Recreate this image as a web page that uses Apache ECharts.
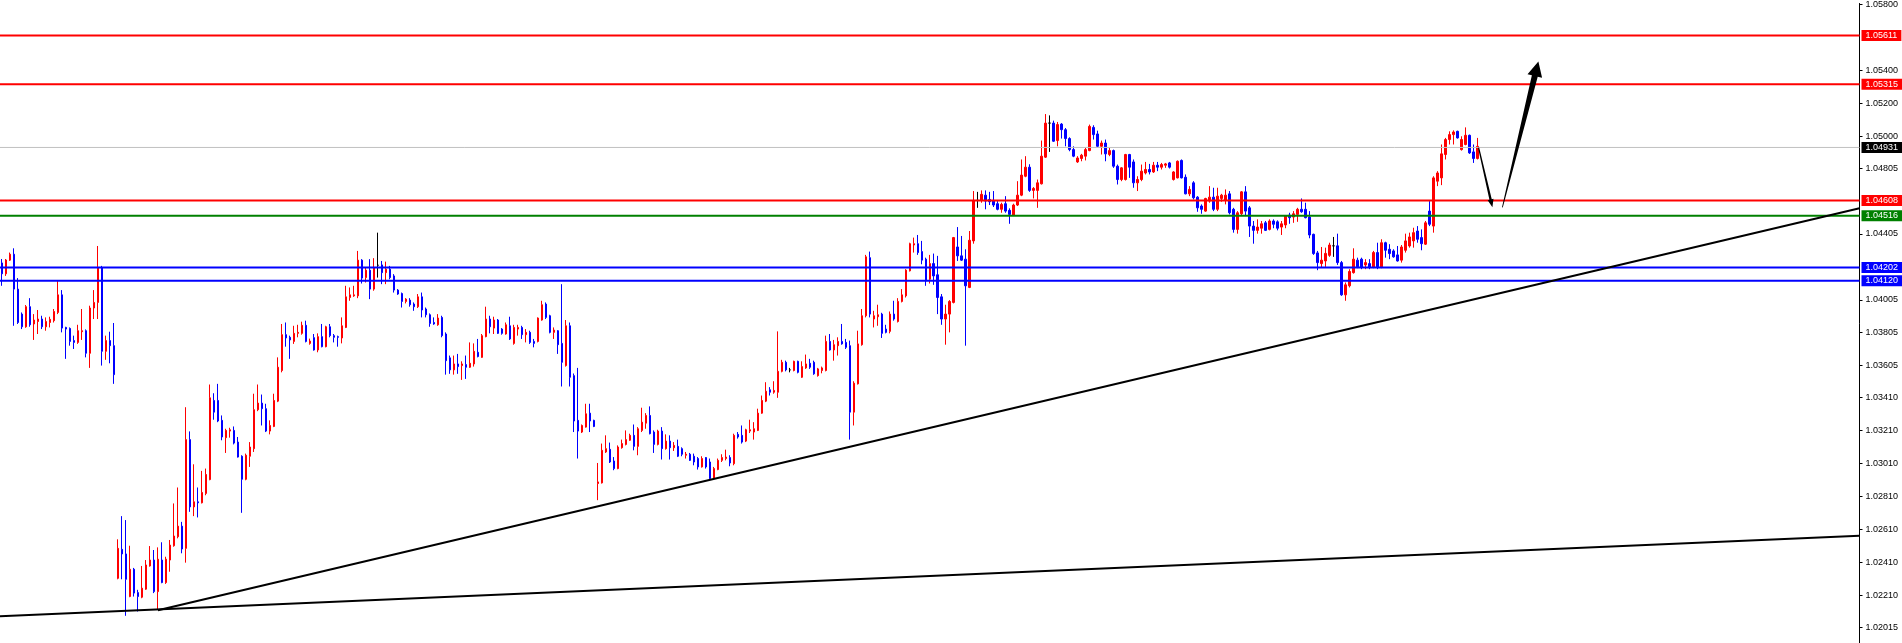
<!DOCTYPE html>
<html>
<head>
<meta charset="utf-8">
<script src="https://cdn.jsdelivr.net/npm/echarts@6/dist/echarts.min.js"></script>
<style>
html,body{margin:0;padding:0;background:#fff;}
#chart{width:1902px;height:643px;}
</style>
</head>
<body>
<div id="chart"></div>
<script>
// ---- data (prices) ----
const opens = [
1.04229,1.04163,1.04246,1.04282,1.04070,1.03918,1.03841,1.03963,1.03858,1.03873,
1.03888,1.03841,1.03867,1.03878,1.03928,1.04035,1.03837,1.03831,1.03757,1.03746,
1.03811,1.03817,1.03680,1.03955,1.03989,1.04201,1.03692,1.03757,1.03726,1.02312,
1.02488,1.02460,1.02201,1.02367,1.02225,1.02197,1.02246,1.02387,1.02423,1.02231,
1.02423,1.02286,1.02423,1.02510,1.02565,1.02629,1.02494,1.03155,1.02746,1.02777,
1.02771,1.02828,1.02912,1.03393,1.03393,1.03272,1.03167,1.03207,1.03211,1.03140,
1.03054,1.02914,1.03054,1.03100,1.03337,1.03377,1.03343,1.03207,1.03235,1.03389,
1.03575,1.03793,1.03777,1.03752,1.03801,1.03801,1.03850,1.03740,1.03775,1.03700,
1.03781,1.03720,1.03841,1.03787,1.03781,1.03773,1.03837,1.04019,1.04029,1.04029,
1.04246,1.04140,1.04185,1.04070,1.04215,1.04217,1.04170,1.04191,1.04150,1.04064,
1.04043,1.03995,1.04003,1.03979,1.03963,1.04023,1.03949,1.03914,1.03867,1.03853,
1.03898,1.03797,1.03652,1.03579,1.03615,1.03605,1.03611,1.03595,1.03615,1.03686,
1.03655,1.03781,1.03888,1.03833,1.03882,1.03827,1.03797,1.03847,1.03740,1.03827,
1.03837,1.03793,1.03807,1.03752,1.03752,1.03882,1.03979,1.03908,1.03807,1.03817,
1.03740,1.03605,1.03847,1.03544,1.03272,1.03201,1.03231,1.03316,1.03272,1.02888,
1.02892,1.03080,1.03096,1.03025,1.02979,1.03106,1.03126,1.03151,1.03181,1.03114,
1.03211,1.03255,1.03302,1.03201,1.03126,1.03207,1.03100,1.03146,1.03106,1.03114,
1.03100,1.03060,1.03066,1.03054,1.03040,1.02989,1.03046,1.03019,1.02918,1.02973,
1.03029,1.03040,1.03046,1.03009,1.03187,1.03181,1.03146,1.03207,1.03201,1.03211,
1.03316,1.03389,1.03458,1.03443,1.03443,1.03570,1.03625,1.03579,1.03575,1.03631,
1.03534,1.03591,1.03619,1.03625,1.03544,1.03575,1.03575,1.03752,1.03700,1.03726,
1.03752,1.03746,1.03726,1.03322,1.03494,1.03732,1.03908,1.04261,1.03888,1.03902,
1.03918,1.03827,1.03813,1.03918,1.03873,1.03995,1.04029,1.04181,1.04338,1.04346,
1.04298,1.04252,1.04130,1.04225,1.04157,1.04023,1.03888,1.03918,1.03989,1.04326,
1.04272,1.04252,1.04080,1.04363,1.04609,1.04609,1.04641,1.04615,1.04609,1.04589,
1.04555,1.04589,1.04549,1.04520,1.04581,1.04641,1.04756,1.04811,1.04670,1.04670,
1.04710,1.04872,1.05079,1.05079,1.04973,1.05073,1.05039,1.04985,1.04918,1.04843,
1.04864,1.04878,1.04912,1.05053,1.05013,1.04938,1.04958,1.04888,1.04912,1.04817,
1.04736,1.04736,1.04888,1.04843,1.04716,1.04736,1.04776,1.04797,1.04782,1.04823,
1.04811,1.04823,1.04837,1.04736,1.04746,1.04852,1.04750,1.04649,1.04716,1.04629,
1.04575,1.04544,1.04605,1.04629,1.04555,1.04621,1.04609,1.04649,1.04555,1.04433,
1.04528,1.04661,1.04564,1.04453,1.04427,1.04440,1.04473,1.04433,1.04484,1.04479,
1.04447,1.04460,1.04520,1.04508,1.04524,1.04555,1.04555,1.04508,1.04403,1.04290,
1.04225,1.04241,1.04275,1.04333,1.04333,1.04231,1.04035,1.04090,1.04170,1.04246,
1.04252,1.04217,1.04225,1.04201,1.04292,1.04205,1.04352,1.04312,1.04302,1.04278,
1.04246,1.04306,1.04332,1.04363,1.04423,1.04383,1.04343,1.04544,1.04453,1.04726,
1.04746,1.04888,1.04979,1.05009,1.05029,1.04918,1.04949,1.05005,1.04904,1.04864
];
const highs = [
1.04253,1.04253,1.04292,1.04318,1.04137,1.03928,1.03973,1.04015,1.03918,1.03943,
1.03908,1.03898,1.03902,1.03949,1.04120,1.04064,1.03841,1.03837,1.03787,1.03853,
1.03949,1.03825,1.03969,1.04064,1.04332,1.04211,1.03787,1.03811,1.03864,1.02549,
1.02690,1.02666,1.02510,1.02375,1.02242,1.02387,1.02423,1.02508,1.02484,1.02500,
1.02531,1.02443,1.02545,1.02767,1.02864,1.02655,1.03352,1.03205,1.03005,1.02864,
1.02965,1.02979,1.03490,1.03437,1.03494,1.03302,1.03221,1.03227,1.03235,1.03171,
1.03060,1.03070,1.03140,1.03434,1.03490,1.03429,1.03373,1.03272,1.03434,1.03655,
1.03858,1.03867,1.03787,1.03847,1.03853,1.03872,1.03878,1.03769,1.03797,1.03801,
1.03858,1.03847,1.03858,1.03797,1.03787,1.03898,1.04090,1.04080,1.04090,1.04302,
1.04252,1.04201,1.04252,1.04258,1.04413,1.04241,1.04237,1.04211,1.04161,1.04070,
1.04049,1.04015,1.04015,1.03989,1.04040,1.04049,1.03958,1.03922,1.03898,1.03918,
1.03908,1.03807,1.03666,1.03666,1.03676,1.03631,1.03666,1.03746,1.03740,1.03767,
1.03797,1.03963,1.03908,1.03902,1.03888,1.03833,1.03867,1.03902,1.03853,1.03853,
1.03847,1.03827,1.03817,1.03767,1.03898,1.03999,1.03989,1.03914,1.03837,1.03821,
1.04100,1.03882,1.03867,1.03557,1.03591,1.03247,1.03373,1.03373,1.03276,1.03013,
1.03131,1.03181,1.03137,1.03049,1.03120,1.03155,1.03211,1.03191,1.03247,1.03231,
1.03349,1.03316,1.03357,1.03211,1.03215,1.03231,1.03187,1.03181,1.03140,1.03155,
1.03108,1.03080,1.03074,1.03070,1.03049,1.03054,1.03049,1.03040,1.02989,1.03040,
1.03066,1.03094,1.03060,1.03191,1.03201,1.03241,1.03221,1.03276,1.03261,1.03343,
1.03423,1.03504,1.03474,1.03510,1.03813,1.03640,1.03635,1.03591,1.03635,1.03635,
1.03631,1.03672,1.03646,1.03635,1.03591,1.03599,1.03787,1.03797,1.03761,1.03777,
1.03858,1.03767,1.03757,1.03510,1.03817,1.03949,1.04278,1.04298,1.03938,1.03975,
1.03926,1.03853,1.03934,1.03999,1.04015,1.04070,1.04191,1.04352,1.04383,1.04399,
1.04363,1.04261,1.04278,1.04286,1.04272,1.04040,1.03975,1.04003,1.04387,1.04447,
1.04393,1.04312,1.04423,1.04666,1.04661,1.04670,1.04670,1.04661,1.04666,1.04605,
1.04595,1.04635,1.04561,1.04589,1.04726,1.04858,1.04878,1.04829,1.04690,1.04736,
1.04973,1.05134,1.05126,1.05094,1.05086,1.05079,1.05049,1.04993,1.04938,1.04878,
1.04892,1.04928,1.05070,1.05066,1.05033,1.04973,1.04979,1.04928,1.04918,1.04827,
1.04811,1.04892,1.04892,1.04858,1.04756,1.04827,1.04843,1.04831,1.04843,1.04843,
1.04837,1.04837,1.04843,1.04787,1.04852,1.04858,1.04767,1.04696,1.04726,1.04635,
1.04585,1.04625,1.04696,1.04686,1.04686,1.04649,1.04676,1.04666,1.04564,1.04544,
1.04666,1.04696,1.04575,1.04484,1.04494,1.04484,1.04484,1.04494,1.04494,1.04488,
1.04484,1.04520,1.04534,1.04544,1.04564,1.04621,1.04595,1.04544,1.04407,1.04302,
1.04326,1.04322,1.04352,1.04387,1.04407,1.04241,1.04110,1.04191,1.04318,1.04261,
1.04261,1.04252,1.04252,1.04302,1.04352,1.04373,1.04358,1.04343,1.04312,1.04332,
1.04338,1.04407,1.04413,1.04443,1.04453,1.04433,1.04484,1.04605,1.04756,1.04787,
1.04949,1.04989,1.05029,1.05035,1.05033,1.04999,1.05053,1.05009,1.04949,1.04989
];
const lows = [
1.04090,1.04150,1.04241,1.03847,1.03858,1.03827,1.03835,1.03841,1.03761,1.03797,
1.03827,1.03817,1.03837,1.03867,1.03918,1.03807,1.03646,1.03726,1.03706,1.03737,
1.03761,1.03655,1.03591,1.03888,1.03888,1.03605,1.03640,1.03619,1.03494,1.02306,
1.02306,1.02084,1.02197,1.02201,1.02110,1.02191,1.02242,1.02383,1.02222,1.02120,
1.02282,1.02278,1.02352,1.02504,1.02555,1.02464,1.02407,1.02716,1.02690,1.02682,
1.02767,1.02817,1.02908,1.03276,1.03261,1.03151,1.03074,1.03167,1.03126,1.03046,
1.02710,1.02908,1.02989,1.03080,1.03328,1.03241,1.03201,1.03187,1.03231,1.03383,
1.03564,1.03720,1.03646,1.03737,1.03777,1.03793,1.03746,1.03732,1.03696,1.03686,
1.03716,1.03716,1.03777,1.03746,1.03720,1.03740,1.03833,1.03999,1.04023,1.04015,
1.04104,1.04110,1.04009,1.04060,1.04140,1.04100,1.04100,1.04130,1.04049,1.04035,
1.03958,1.03983,1.03963,1.03938,1.03955,1.03898,1.03898,1.03841,1.03853,1.03847,
1.03777,1.03550,1.03555,1.03550,1.03555,1.03518,1.03524,1.03591,1.03599,1.03655,
1.03652,1.03777,1.03801,1.03797,1.03797,1.03793,1.03793,1.03761,1.03732,1.03787,
1.03767,1.03746,1.03737,1.03716,1.03746,1.03878,1.03888,1.03801,1.03767,1.03676,
1.03478,1.03599,1.03478,1.03201,1.03040,1.03195,1.03228,1.03201,1.03231,1.02787,
1.02888,1.03074,1.03013,1.02969,1.02975,1.03100,1.03120,1.03147,1.03090,1.03060,
1.03201,1.03221,1.03187,1.03074,1.03120,1.03034,1.03094,1.03034,1.03086,1.03049,
1.03054,1.03040,1.03025,1.02999,1.02973,1.02985,1.02979,1.02912,1.02912,1.02969,
1.03019,1.03029,1.02993,1.02999,1.03161,1.03131,1.03140,1.03195,1.03155,1.03207,
1.03312,1.03383,1.03423,1.03434,1.03409,1.03564,1.03570,1.03564,1.03570,1.03558,
1.03530,1.03585,1.03585,1.03549,1.03538,1.03558,1.03570,1.03696,1.03635,1.03666,
1.03732,1.03706,1.03155,1.03241,1.03490,1.03726,1.03898,1.03898,1.03837,1.03847,
1.03773,1.03801,1.03801,1.03878,1.03867,1.03989,1.04019,1.04177,1.04292,1.04278,
1.04221,1.04090,1.04104,1.04096,1.03918,1.03853,1.03732,1.03807,1.03983,1.04241,
1.04241,1.03726,1.04076,1.04346,1.04564,1.04595,1.04555,1.04581,1.04569,1.04549,
1.04534,1.04534,1.04467,1.04514,1.04575,1.04635,1.04750,1.04661,1.04621,1.04564,
1.04706,1.04867,1.04904,1.04965,1.04938,1.04985,1.04938,1.04908,1.04872,1.04837,
1.04847,1.04852,1.04908,1.04979,1.04932,1.04888,1.04847,1.04878,1.04807,1.04706,
1.04726,1.04730,1.04746,1.04686,1.04666,1.04726,1.04767,1.04767,1.04776,1.04787,
1.04797,1.04807,1.04803,1.04730,1.04743,1.04743,1.04646,1.04635,1.04615,1.04540,
1.04528,1.04540,1.04595,1.04544,1.04544,1.04601,1.04585,1.04524,1.04413,1.04407,
1.04514,1.04514,1.04387,1.04346,1.04407,1.04407,1.04423,1.04427,1.04440,1.04427,
1.04399,1.04440,1.04467,1.04473,1.04479,1.04534,1.04500,1.04379,1.04278,1.04185,
1.04201,1.04205,1.04266,1.04266,1.04217,1.04029,1.03999,1.04080,1.04164,1.04197,
1.04191,1.04191,1.04191,1.04197,1.04191,1.04197,1.04261,1.04252,1.04261,1.04237,
1.04231,1.04292,1.04322,1.04322,1.04352,1.04306,1.04338,1.04453,1.04413,1.04696,
1.04702,1.04858,1.04949,1.04949,1.04985,1.04912,1.04944,1.04892,1.04837,1.04858
];
const closes = [
1.04163,1.04247,1.04282,1.04070,1.03867,1.03841,1.03963,1.03853,1.03882,1.03888,
1.03841,1.03873,1.03886,1.03934,1.04035,1.03833,1.03827,1.03752,1.03746,1.03817,
1.03817,1.03680,1.03955,1.03989,1.04201,1.03692,1.03757,1.03726,1.03550,1.02494,
1.02460,1.02306,1.02367,1.02222,1.02201,1.02252,1.02393,1.02423,1.02231,1.02428,
1.02286,1.02428,1.02514,1.02569,1.02629,1.02490,1.03155,1.02746,1.02777,1.02771,
1.02834,1.02943,1.03409,1.03322,1.03268,1.03171,1.03211,1.03215,1.03134,1.03049,
1.02914,1.03060,1.03110,1.03337,1.03377,1.03343,1.03207,1.03241,1.03393,1.03595,
1.03793,1.03773,1.03761,1.03801,1.03807,1.03850,1.03752,1.03754,1.03700,1.03781,
1.03720,1.03841,1.03787,1.03777,1.03777,1.03847,1.04023,1.04035,1.04035,1.04246,
1.04137,1.04185,1.04070,1.04201,1.04215,1.04170,1.04191,1.04140,1.04064,1.04040,
1.03995,1.04009,1.03975,1.03963,1.04023,1.03943,1.03914,1.03861,1.03858,1.03894,
1.03787,1.03635,1.03579,1.03615,1.03599,1.03615,1.03595,1.03619,1.03692,1.03660,
1.03787,1.03888,1.03841,1.03882,1.03801,1.03801,1.03853,1.03767,1.03837,1.03837,
1.03793,1.03807,1.03746,1.03740,1.03894,1.03975,1.03898,1.03807,1.03821,1.03732,
1.03625,1.03847,1.03534,1.03268,1.03207,1.03241,1.03312,1.03268,1.03235,1.02898,
1.03090,1.03100,1.03019,1.02979,1.03110,1.03131,1.03155,1.03181,1.03114,1.03221,
1.03261,1.03302,1.03191,1.03126,1.03207,1.03100,1.03146,1.03106,1.03120,1.03054,
1.03066,1.03066,1.03029,1.03019,1.02989,1.03040,1.02989,1.02918,1.02979,1.03029,
1.03046,1.03049,1.03013,1.03181,1.03171,1.03140,1.03215,1.03215,1.03221,1.03316,
1.03393,1.03449,1.03443,1.03454,1.03570,1.03625,1.03579,1.03579,1.03631,1.03564,
1.03599,1.03615,1.03595,1.03555,1.03585,1.03591,1.03752,1.03700,1.03732,1.03752,
1.03737,1.03716,1.03322,1.03498,1.03737,1.03908,1.04266,1.03918,1.03908,1.03914,
1.03801,1.03807,1.03918,1.03888,1.03995,1.04035,1.04185,1.04346,1.04346,1.04292,
1.04246,1.04120,1.04225,1.04150,1.04019,1.03888,1.03918,1.03995,1.04383,1.04272,
1.04246,1.04090,1.04367,1.04609,1.04609,1.04646,1.04605,1.04601,1.04581,1.04555,
1.04585,1.04544,1.04524,1.04581,1.04641,1.04763,1.04811,1.04670,1.04682,1.04716,
1.04878,1.05079,1.05079,1.04969,1.05070,1.05039,1.04985,1.04918,1.04878,1.04867,
1.04884,1.04918,1.05059,1.05009,1.04938,1.04958,1.04892,1.04912,1.04817,1.04736,
1.04807,1.04888,1.04811,1.04716,1.04736,1.04787,1.04797,1.04782,1.04823,1.04811,
1.04827,1.04831,1.04811,1.04782,1.04847,1.04746,1.04649,1.04676,1.04625,1.04564,
1.04555,1.04621,1.04629,1.04555,1.04635,1.04641,1.04641,1.04534,1.04433,1.04534,
1.04661,1.04544,1.04453,1.04427,1.04447,1.04467,1.04427,1.04484,1.04464,1.04440,
1.04467,1.04514,1.04504,1.04528,1.04555,1.04540,1.04504,1.04399,1.04286,1.04231,
1.04246,1.04287,1.04338,1.04333,1.04231,1.04035,1.04096,1.04177,1.04252,1.04205,
1.04201,1.04231,1.04201,1.04292,1.04205,1.04352,1.04306,1.04286,1.04266,1.04241,
1.04326,1.04363,1.04387,1.04413,1.04373,1.04346,1.04473,1.04464,1.04746,1.04776,
1.04892,1.04979,1.05009,1.05025,1.04989,1.04979,1.05005,1.04898,1.04864,1.04938
];
const priceTicks = [1.05800,1.05400,1.05200,1.05000,1.04805,1.04405,1.04005,1.03805,1.03605,1.03410,1.03210,1.03010,1.02810,1.02610,1.02410,1.02210,1.02015];
const levelPrices = [1.05611,1.05315,1.04931,1.04608,1.04516,1.04202,1.04120];
const trendLineA = [[-0.5,1.02082],[464.5,1.02570]];
const trendLineB = [[39,1.02118],[464.5,1.04561]];
const arrowDown = [369.25,1.04930,372.7,1.04567];
const arrowUp = [375.2,1.04567,384.2,1.05454];
const slotCount = 465;
const priceRange = [1.019187,1.058063];

// ---- styles ----
const RED = '#ff0000', BLUE = '#0000ff', GREEN = '#008000';
const levelStyles = [
  {line: RED, width: 2, tag: RED},
  {line: RED, width: 2, tag: RED},
  {line: '#c0c0c0', width: 1, tag: '#000000'},
  {line: RED, width: 2, tag: RED},
  {line: GREEN, width: 2, tag: GREEN},
  {line: BLUE, width: 2, tag: BLUE},
  {line: BLUE, width: 2, tag: BLUE}
];
const arrowStyles = [
  {tail: 1.2, shaft: 2.4, headLen: 8, headW: 6},
  {tail: 0.8, shaft: 6, headLen: 15, headW: 15}
];
const FONT = 'Liberation Sans';

const candleData = opens.map((o, i) => [o, closes[i], lows[i], highs[i]]);
const categories = Array.from({length: slotCount}, (_, i) => i);

const levelSeries = levelPrices.map((v, k) => ({
  type: 'line', xAxisIndex: 1, yAxisIndex: 0, silent: true, symbol: 'none', z: 3,
  data: [[-0.5, v], [slotCount - 0.5, v]],
  lineStyle: {color: levelStyles[k].line, width: levelStyles[k].width, type: 'solid'},
  endLabel: {show: true, distance: 2, formatter: () => v.toFixed(5), color: '#fff',
    backgroundColor: levelStyles[k].tag, padding: [1, 4, 0, 4], fontSize: 9, lineHeight: 10,
    fontFamily: FONT, align: 'left', verticalAlign: 'middle'}
}));

const chart = echarts.init(document.getElementById('chart'), null, {renderer: 'canvas'});
chart.setOption({
  animation: false,
  backgroundColor: '#ffffff',
  grid: {left: -0.5, right: 42.5, top: 0, bottom: 0, containLabel: false},
  xAxis: [
    {type: 'category', data: categories, show: false, boundaryGap: true},
    {type: 'value', min: -0.5, max: slotCount - 0.5, show: false}
  ],
  yAxis: {
    type: 'value', position: 'right', min: priceRange[0], max: priceRange[1],
    splitLine: {show: false},
    axisLine: {show: true, onZero: false, lineStyle: {color: '#000', width: 1}},
    axisTick: {show: true, customValues: priceTicks, length: 3, lineStyle: {color: '#000'}},
    axisLabel: {customValues: priceTicks, formatter: v => v.toFixed(5), color: '#000',
      fontSize: 9, fontFamily: FONT, margin: 6}
  },
  series: [
    {
      type: 'candlestick', xAxisIndex: 0, yAxisIndex: 0, z: 2,
      data: candleData, barWidth: 2,
      itemStyle: {color: RED, color0: BLUE, borderColor: RED, borderColor0: BLUE,
        borderColorDoji: '#000', borderWidth: 1}
    },
    ...levelSeries,
    {type: 'line', xAxisIndex: 1, yAxisIndex: 0, data: trendLineA, symbol: 'none', silent: true, z: 4,
      lineStyle: {color: '#000', width: 2}},
    {type: 'line', xAxisIndex: 1, yAxisIndex: 0, data: trendLineB, symbol: 'none', silent: true, z: 4,
      lineStyle: {color: '#000', width: 2}},
    {
      type: 'custom', xAxisIndex: 1, yAxisIndex: 0, silent: true, clip: false, z: 5,
      data: [arrowDown, arrowUp],
      encode: {x: [0, 2], y: [1, 3]},
      renderItem: function (params, api) {
        const a = api.coord([api.value(0), api.value(1)]);
        const b = api.coord([api.value(2), api.value(3)]);
        const s = arrowStyles[params.dataIndex];
        const dx = b[0] - a[0], dy = b[1] - a[1];
        const len = Math.sqrt(dx * dx + dy * dy);
        const ux = dx / len, uy = dy / len;
        const nx = -uy, ny = ux;
        const base = [b[0] - ux * s.headLen, b[1] - uy * s.headLen];
        const pts = [
          [a[0] + nx * s.tail / 2, a[1] + ny * s.tail / 2],
          [base[0] + nx * s.shaft / 2, base[1] + ny * s.shaft / 2],
          [base[0] + nx * s.headW / 2, base[1] + ny * s.headW / 2],
          [b[0], b[1]],
          [base[0] - nx * s.headW / 2, base[1] - ny * s.headW / 2],
          [base[0] - nx * s.shaft / 2, base[1] - ny * s.shaft / 2],
          [a[0] - nx * s.tail / 2, a[1] - ny * s.tail / 2]
        ];
        return {type: 'polygon', shape: {points: pts}, style: {fill: '#000'}};
      }
    }
  ]
});
</script>
</body>
</html>
